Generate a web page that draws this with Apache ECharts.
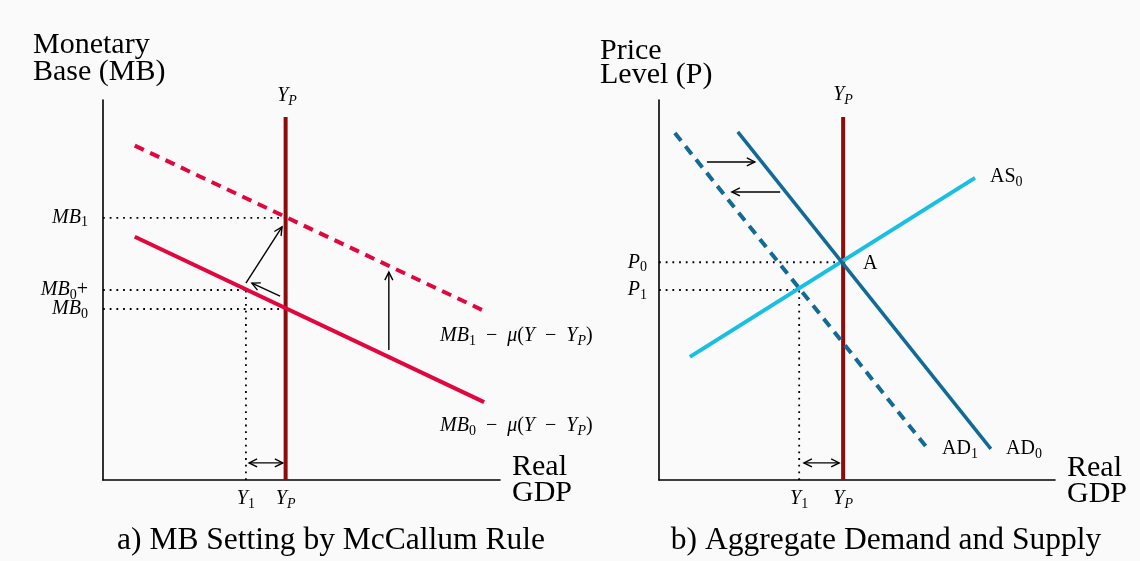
<!DOCTYPE html>
<html><head><meta charset="utf-8">
<script src="https://cdn.jsdelivr.net/npm/echarts@6/dist/echarts.min.js"></script>
<style>html,body{margin:0;padding:0;background:#fafafa}#c{width:1140px;height:561px}</style>
</head><body><div id="c"></div>
<script>
// ---------- Panel a) MB setting by McCallum rule (axes 0..100) ----------
const yP_a = 46;            // potential output
const y1_a = 36;            // actual output Y1
const mb1 = 69, mb0plus = 50, mb0 = 45;
const mb0Line = [[8, 64], [96, 20.5]];
const mb1Line = [[8, 88], [96, 44.5]];
const yPTop = 95.5;
// arrows: x1, y1, x2, y2, headAtStart, headAtEnd
const arrowsA = [[36, 51.8, 45.1, 66.6, 0, 1], [44.6, 48.4, 37.5, 51.8, 0, 1], [72, 34.2, 72, 54.7, 0, 1], [36.8, 4.5, 45.3, 4.5, 1, 1]];
const yTicksA = [mb0plus, mb1];
const yTicksA2 = [mb0];
const xTicksA = [y1_a, yP_a];

// ---------- Panel b) Aggregate demand and supply ----------
const yP_b = 46.5, y1_b = 35.4;
const p0 = 57.3, p1 = 50;
const ad0Line = [[19.9, 91.6], [83.8, 8.2]];
const ad1Line = [[4, 91.3], [67.9, 8.2]];
const as0Line = [[7.8, 32.4], [79.8, 79.5]];
const arrowsB = [[12.1, 83.7, 24.2, 83.7, 0, 1], [30.6, 75.8, 18.4, 75.8, 0, 1], [36.6, 4.5, 45.5, 4.5, 1, 1]];
const yTicksB = [p1, p0];
const xTicksB = [y1_b, yP_b];

const F = 'Liberation Serif';
const rich = {
  i: {fontFamily: F, fontStyle: 'italic', fontSize: 20, lineHeight: 16, color: '#000'},
  n: {fontFamily: F, fontSize: 20, lineHeight: 16, color: '#000'},
  s: {fontFamily: F, fontSize: 14, lineHeight: 12, color: '#000', padding: [10, 0, 0, 0]},
  si: {fontFamily: F, fontStyle: 'italic', fontSize: 14, lineHeight: 12, color: '#000', padding: [10, 0, 0, 0]}
};

const RED = '#e2063e', DARKRED = '#8c0b0b', BLUE = '#126a96', CYAN = '#16bfe3';

function arrowRender(params, api) {
  const a = api.coord([api.value(0), api.value(1)]);
  const b = api.coord([api.value(2), api.value(3)]);
  const hs = api.value(4), he = api.value(5);
  const dx = b[0] - a[0], dy = b[1] - a[1];
  const L = Math.hypot(dx, dy), ux = dx / L, uy = dy / L, px = -uy, py = ux;
  const H = 8, W = 4;
  const st = {stroke: '#000', lineWidth: 1.4, fill: null};
  const ch = [{type: 'line', shape: {x1: a[0], y1: a[1], x2: b[0], y2: b[1]}, style: st}];
  if (he) ch.push({type: 'polyline', shape: {points: [[b[0] - H * ux + W * px, b[1] - H * uy + W * py], b, [b[0] - H * ux - W * px, b[1] - H * uy - W * py]]}, style: st});
  if (hs) ch.push({type: 'polyline', shape: {points: [[a[0] + H * ux + W * px, a[1] + H * uy + W * py], a, [a[0] + H * ux - W * px, a[1] + H * uy - W * py]]}, style: st});
  return {type: 'group', children: ch};
}

function ln(data, color, width, type, xi) {
  return {type: 'line', xAxisIndex: xi, yAxisIndex: xi, data: data, showSymbol: false, symbol: 'none',
    lineStyle: {color: color, width: width, type: type, cap: 'butt'}, animation: false, clip: false, silent: true};
}
function dot(data, xi) { return ln(data, '#000', 1.8, [1.8, 4.9], xi); }

const axisX = (gi, ticks, fmt) => ({type: 'value', gridIndex: gi, min: 0, max: 100,
  axisLine: {show: true, lineStyle: {color: '#000', width: 1.6}}, axisTick: {show: false}, splitLine: {show: false},
  axisLabel: {customValues: ticks, margin: 11, hideOverlap: false, formatter: fmt, rich: rich}});
const axisY = (gi, ticks, fmt, m, showLine) => ({type: 'value', gridIndex: gi, min: 0, max: 100, position: 'left', offset: 0,
  axisLine: {show: showLine, lineStyle: {color: '#000', width: 1.6}}, axisTick: {show: false}, splitLine: {show: false},
  axisLabel: {customValues: ticks, margin: m, hideOverlap: false, formatter: fmt, rich: rich}});

const chart = echarts.init(document.getElementById('c'), null, {renderer: 'canvas'});
const T = (x, y, text, size, align) => ({type: 'text', x: x, y: y,
  style: {text: text, fontFamily: F, fontSize: size, fill: '#000', align: align || 'left', verticalAlign: 'middle', rich: rich}});

chart.setOption({
  backgroundColor: '#fafafa',
  animation: false,
  grid: [{left: 103, top: 100, width: 397, height: 380}, {left: 659, top: 100, width: 396, height: 380}],
  xAxis: [
    axisX(0, xTicksA, v => v === y1_a ? '{i|Y}{s|1}' : '{i|Y}{si|P}'),
    axisX(1, xTicksB, v => v === y1_b ? '{i|Y}{s|1}' : '{i|Y}{si|P}')
  ],
  yAxis: [
    axisY(0, yTicksA, v => v === mb1 ? '{i|MB}{s|1}' : '{i|MB}{s|0}{n|+}', 15, true),
    axisY(1, yTicksB, v => v === p0 ? '{i|P}{s|0}' : '{i|P}{s|1}', 12, true),
    axisY(0, yTicksA2, v => '{i|MB}{s|0}', 15, false)
  ],
  series: [
    dot([[0, mb1], [yP_a, mb1]], 0),
    dot([[0, mb0plus], [y1_a, mb0plus]], 0),
    dot([[0, mb0], [yP_a, mb0]], 0),
    dot([[y1_a, 0], [y1_a, mb0plus]], 0),
    ln([[yP_a, 0], [yP_a, yPTop]], DARKRED, 4, 'solid', 0),
    ln(mb1Line, RED, 4, [10, 7], 0),
    ln(mb0Line, RED, 4, 'solid', 0),
    {type: 'custom', xAxisIndex: 0, yAxisIndex: 0, renderItem: arrowRender, data: arrowsA, clip: false, silent: true, encode: {x: [0, 2], y: [1, 3]}},

    dot([[0, p0], [yP_b, p0]], 1),
    dot([[0, p1], [y1_b, p1]], 1),
    dot([[y1_b, 0], [y1_b, p1]], 1),
    ln([[yP_b, 0], [yP_b, yPTop]], DARKRED, 4, 'solid', 1),
    ln(as0Line, CYAN, 4, 'solid', 1),
    ln(ad1Line, BLUE, 4, [10, 7], 1),
    ln(ad0Line, BLUE, 3.5, 'solid', 1),
    {type: 'custom', xAxisIndex: 1, yAxisIndex: 1, renderItem: arrowRender, data: arrowsB, clip: false, silent: true, encode: {x: [0, 2], y: [1, 3]}}
  ],
  graphic: [
    T(33, 45, 'Monetary', 30),
    T(33, 72, 'Base (MB)', 30),
    T(600, 51, 'Price', 30),
    T(600, 75, 'Level (P)', 30),
    T(512, 467, 'Real', 30),
    T(512, 493, 'GDP', 30),
    T(1067, 468, 'Real', 30),
    T(1067, 494, 'GDP', 30),
    T(331, 541, 'a) MB Setting by McCallum Rule', 31.5, 'center'),
    T(886, 541, 'b) Aggregate Demand and Supply', 31.5, 'center'),
    T(287, 96, '{i|Y}{si|P}', 20, 'center'),
    T(843, 95, '{i|Y}{si|P}', 20, 'center'),
    T(440, 336, '{i|MB}{s|1}{n|\u2002−\u2002}{i|μ}{n|(}{i|Y}{n|\u2002−\u2002}{i|Y}{si|P}{n|)}', 20),
    T(440, 426, '{i|MB}{s|0}{n|\u2002−\u2002}{i|μ}{n|(}{i|Y}{n|\u2002−\u2002}{i|Y}{si|P}{n|)}', 20),
    T(863, 264, '{n|A}', 20),
    T(990, 177, '{n|AS}{s|0}', 20),
    T(942, 449, '{n|AD}{s|1}', 20),
    T(1006, 449, '{n|AD}{s|0}', 20)
  ]
});
</script></body></html>
